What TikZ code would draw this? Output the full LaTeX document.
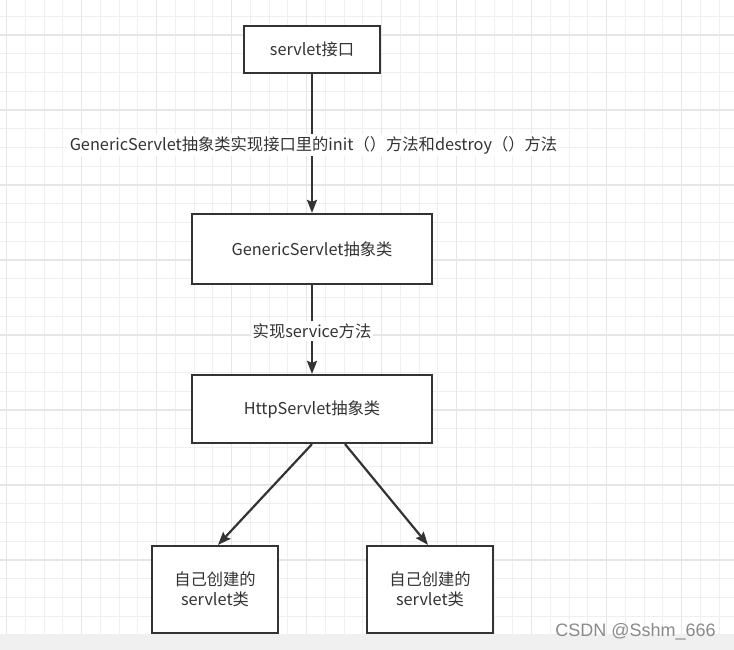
\documentclass[tikz,border=0pt]{standalone}
\usepackage{fontspec}
\setmainfont{Noto Sans CJK SC}
\newfontfamily\wmfont{Liberation Sans}
\usetikzlibrary{arrows.meta}
\definecolor{ink}{HTML}{333333}
\definecolor{gridminor}{HTML}{EFEFEF}
\definecolor{gridmajor}{HTML}{E6E6E6}
\definecolor{band}{HTML}{F0F0F0}
\definecolor{wmgray}{HTML}{8A8A8A}
\tikzset{
  box/.style={draw=ink, line width=2.2pt, fill=white, text=ink, font=\fontsize{16.3}{20}\selectfont, align=center, inner sep=0pt},
  conn/.style={draw=ink, line width=2.2pt, -{Stealth[length=13pt,width=10pt,inset=2pt]}},
  elabel/.style={fill=white, text=ink, font=\fontsize{16.3}{20}\selectfont, inner sep=2pt},
}
\begin{document}
\begin{tikzpicture}[x=1pt,y=-1pt]
\useasboundingbox (0,0) rectangle (734,650);
\fill[white] (0,0) rectangle (734,650);
% grid
\foreach \i in {0,...,39}{
  \pgfmathsetmacro\xx{6.7+18.75*\i}
  \draw[gridminor, line width=1pt] (\xx,0) -- (\xx,650);
}
\foreach \i in {0,...,35}{
  \pgfmathsetmacro\yy{-2.5+18.75*\i}
  \draw[gridminor, line width=1pt] (0,\yy) -- (734,\yy);
}
\foreach \i in {0,...,9}{
  \pgfmathsetmacro\xx{6.7+75*\i}
  \draw[gridmajor, line width=1.2pt] (\xx,0) -- (\xx,650);
}
\foreach \i in {0,...,8}{
  \pgfmathsetmacro\yy{35+75*\i}
  \draw[gridmajor, line width=1.2pt] (0,\yy) -- (734,\yy);
}
\fill[band] (0,634) rectangle (734,650);
% nodes
\node[box, minimum width=136pt, minimum height=47pt] (n1) at (312,49.5) {servlet接口};
\node[box, minimum width=240pt, minimum height=70pt] (n2) at (312,249) {GenericServlet抽象类};
\node[box, minimum width=240pt, minimum height=68pt] (n3) at (312,409) {HttpServlet抽象类};
\node[box, minimum width=126pt, minimum height=87pt] (n4) at (215,589.5) {自己创建的\\servlet类};
\node[box, minimum width=126pt, minimum height=87pt] (n5) at (430,589.5) {自己创建的\\servlet类};
% connectors
\draw[conn] (n1.south) -- (n2.north);
\node[elabel] (l1) at (313.5,145) {GenericServlet抽象类实现接口里的init（）方法和destroy（）方法};
\draw[conn] (n2.south) -- (n3.north);
\node[elabel] (l2) at (312,331) {实现service方法};
\draw[conn] (n3.south) -- ([xshift=3pt]n4.north);
\draw[conn] ([xshift=33pt]n3.south) -- ([xshift=-2pt]n5.north);
% watermark
\node[text=wmgray, font=\wmfont\fontsize{18}{21}\selectfont, inner sep=0pt] (wm) at (635.5,632) {CSDN @Sshm\_666};
\end{tikzpicture}
\end{document}
